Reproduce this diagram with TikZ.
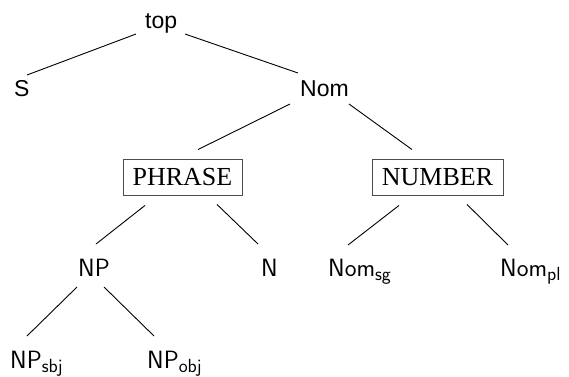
\documentclass[tikz,border=0pt]{standalone}
\usepackage{fontspec}
\newfontfamily\helvfont{Liberation Sans}
\newfontfamily\romfont{Liberation Serif}
\usetikzlibrary{calc}
% lowered, smaller sans label index
\newcommand\lblsub[1]{\raisebox{-4pt}{\fontsize{19}{19}\selectfont #1}}
\begin{document}
\begin{tikzpicture}[x=1pt,y=-1pt,
  upper/.style={inner sep=0pt,anchor=base west,font=\helvfont\fontsize{23}{23}\selectfont},
  lower/.style={inner sep=0pt,anchor=base west,font=\sffamily\fontsize{25}{25}\selectfont},
  featbox/.style={draw=black!70,line width=0.9pt,inner sep=0pt,minimum height=36pt,
    font=\romfont\fontsize{26}{26}\selectfont},
  edge/.style={line width=0.9pt,draw=black}]
\useasboundingbox (0,0) rectangle (569,376);

% labels
\node[upper] (top) at (145,28) {top};
\node[upper] (S) at (14,96) {S};
\node[upper] (Nom) at (300,96) {Nom};
\node[featbox,minimum width=119pt] (phrase) at (182.5,177) {PHRASE};
\node[featbox,minimum width=131pt] (number) at (437.5,177) {NUMBER};
\node[lower] (NP) at (78,276) {NP};
\node[lower] (N) at (261,276) {N};
\node[lower] (Nomsg) at (328,276) {Nom\lblsub{sg}};
\node[lower] (Nompl) at (500,276) {Nom\lblsub{pl}};
\node[lower] (NPsbj) at (10,368) {NP\lblsub{sbj}};
\node[lower] (NPobj) at (147,368) {NP\lblsub{obj}};

% branches
\draw[edge] ($(top.base west)+(-9,6)$) -- ($(S.base west)+(13,-21)$);
\draw[edge] ($(top.base west)+(40,6)$) -- ($(Nom.base west)+(-2,-23)$);
\draw[edge] ($(Nom.base west)+(-10,8)$) -- ($(phrase.north)+(15.5,-9)$);
\draw[edge] ($(Nom.base west)+(49,8)$) -- ($(number.north)+(-25.5,-9)$);
\draw[edge] ($(phrase.south)+(-37.5,10)$) -- ($(NP.base west)+(18,-32)$);
\draw[edge] ($(phrase.south)+(34.5,9)$) -- ($(N.base west)+(-3,-32)$);
\draw[edge] ($(number.south)+(-38.5,10)$) -- ($(Nomsg.base west)+(20,-31)$);
\draw[edge] ($(number.south)+(29.5,9)$) -- ($(Nompl.base west)+(8,-31)$);
\draw[edge] ($(NP.base west)+(-1,11)$) -- ($(NPsbj.base west)+(17,-32)$);
\draw[edge] ($(NP.base west)+(26,11)$) -- ($(NPobj.base west)+(7,-32)$);
\end{tikzpicture}
\end{document}
